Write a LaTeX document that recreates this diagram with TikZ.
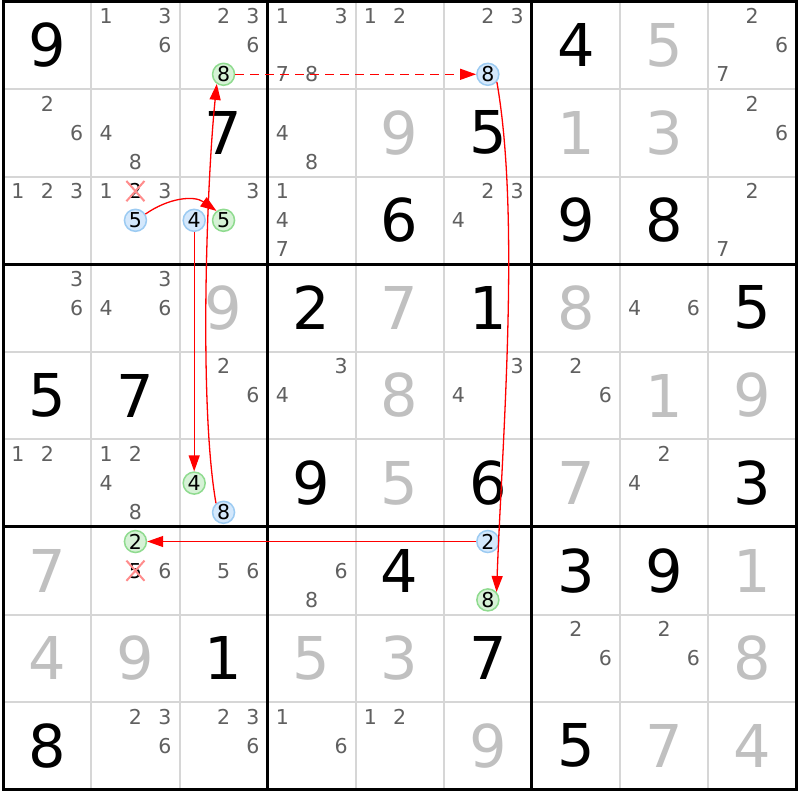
\documentclass[tikz,border=0pt]{standalone}
\usepackage{fontspec}
\setmainfont{DejaVu Sans}
\usepackage{tikz}
\usetikzlibrary{arrows.meta,shapes.misc}
\definecolor{candgray}{HTML}{606060}
\definecolor{solvedgray}{HTML}{C0C0C0}
\definecolor{thingrid}{HTML}{D6D6D6}
\definecolor{bluefill}{HTML}{D4E8FC}
\definecolor{blueline}{HTML}{9CCBF2}
\definecolor{greenfill}{HTML}{D6F2D6}
\definecolor{greenline}{HTML}{8FDB8F}

\begin{document}
\begin{tikzpicture}[x=88.1pt,y=-87.6pt,
given/.style={font=\fontsize{59}{59}\selectfont,inner sep=0pt},
solvedval/.style={given,text=solvedgray},
cand/.style={font=\fontsize{20.5}{20.5}\selectfont,inner sep=0pt,text=candgray},
bluemark/.style={cand,text=black,circle,fill=bluefill,draw=blueline,line width=1.5pt,minimum size=22pt},
greenmark/.style={bluemark,fill=greenfill,draw=greenline},
struck/.style={cand,text=black,cross out,draw=red!45,line width=2pt,inner sep=1.5pt},
link/.style={red,line width=1.3pt,-{Triangle[length=16pt,width=11pt]}}]
\useasboundingbox (-3.3pt,1.3pt) rectangle (796.7pt,-798.7pt);
\fill[white] (-3.3pt,1.3pt) rectangle (796.7pt,-798.7pt);
%grid
\foreach \i in {1,2,4,5,7,8}
{\draw[thingrid,line width=2pt] (\i,0) -- (\i,9); \draw[thingrid,line width=2pt] (0,\i) -- (9,\i);}
\foreach \i in {3,6}
{\draw[line width=3pt] (\i,0) -- (\i,9); \draw[line width=3pt] (0,\i) -- (9,\i);}
\draw[line width=3pt] (0,0) rectangle (9,9);
%givens and solved cells (col/row/value)
\foreach \c/\r/\v in {1/1/9,7/1/4,3/2/7,6/2/5,5/3/6,7/3/9,8/3/8,4/4/2,6/4/1,9/4/5,1/5/5,2/5/7,4/6/9,6/6/6,9/6/3,5/7/4,7/7/3,8/7/9,3/8/1,6/8/7,1/9/8,7/9/5}
\node[given] (n\r\c) at (\c-.5,\r-.5) {\v};
\foreach \c/\r/\v in {8/1/5,5/2/9,7/2/1,8/2/3,3/4/9,5/4/7,7/4/8,5/5/8,8/5/1,9/5/9,5/6/5,7/6/7,1/7/7,9/7/1,1/8/4,2/8/9,4/8/5,5/8/3,9/8/8,6/9/9,8/9/7,9/9/4}
\node[solvedval] (n\r\c) at (\c-.5,\r-.5) {\v};
%candidates
\foreach \c/\r/\ds in {2/1/{1,3,6},3/1/{2,3,6},4/1/{1,3,7,8},5/1/{1,2},6/1/{2,3},9/1/{2,6,7},
1/2/{2,6},2/2/{4,8},4/2/{4,8},9/2/{2,6},
1/3/{1,2,3},2/3/{1,3},3/3/{3},4/3/{1,4,7},6/3/{2,3,4},9/3/{2,7},
1/4/{3,6},2/4/{3,4,6},8/4/{4,6},
3/5/{2,6},4/5/{3,4},6/5/{3,4},7/5/{2,6},
1/6/{1,2},2/6/{1,2,4,8},8/6/{2,4},
2/7/{6},3/7/{5,6},4/7/{6,8},
7/8/{2,6},8/8/{2,6},
2/9/{2,3,6},3/9/{2,3,6},4/9/{1,6},5/9/{1,2}}
\foreach \d in \ds
\node[cand] (k\r\c-\d) at ({\c-.5+(mod(\d-1,3)-1)/3},{\r-.5+(int((\d-1)/3)-1)/3}) {\d};
%marked candidates
\foreach \c/\r/\d/\m in {3/1/8/greenmark,6/1/8/bluemark,2/3/5/bluemark,3/3/4/bluemark,3/3/5/greenmark,3/6/4/greenmark,3/6/8/bluemark,2/7/2/greenmark,6/7/2/bluemark,6/7/8/greenmark,2/3/2/struck,2/7/5/struck}
\node[\m] (k\r\c-\d) at ({\c-.5+(mod(\d-1,3)-1)/3},{\r-.5+(int((\d-1)/3)-1)/3}) {\d};
%chain
\draw[link,dash pattern=on 9pt off 6pt] (k13-8) -- (k16-8);
\draw[link] (k16-8.-40) to[out=-80,in=88,looseness=.7] (k76-8.42);
\draw[link] (k76-2) -- (k72-2);
\draw[link] (k32-5.32) to[out=35,in=145] (k33-5.127);
\draw[link] (k33-4) -- (k63-4);
\draw[link] (k63-8.130) to[out=100,in=-96,looseness=.6] (k13-8.235);
\end{tikzpicture}
\end{document}
